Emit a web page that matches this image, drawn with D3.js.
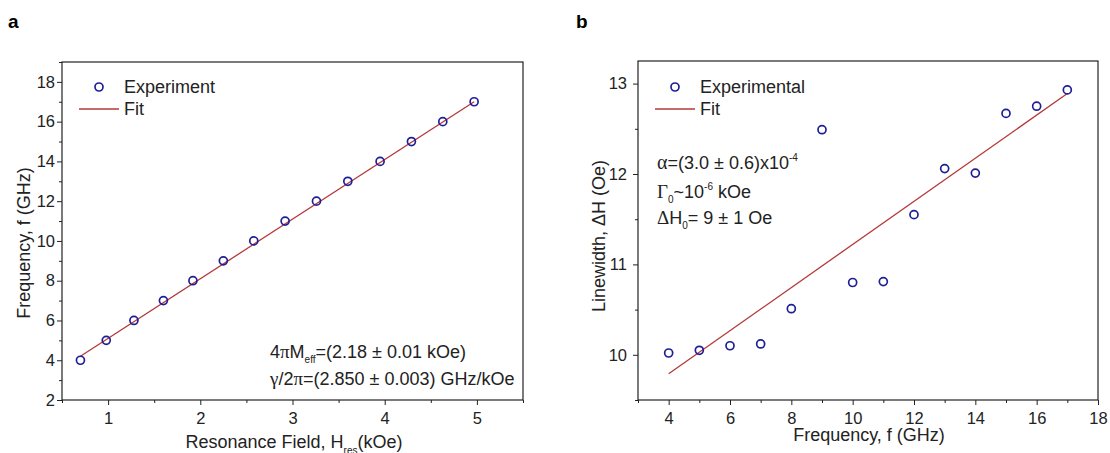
<!DOCTYPE html>
<html>
<head>
<meta charset="utf-8">
<script src="https://cdn.jsdelivr.net/npm/d3@7"></script>
<style>
  body { margin: 0; background: #fff; }
  svg { font-family: "Liberation Sans", Arial, sans-serif; }
  .axis path, .axis line { stroke: #222; }
  .axis text { font-size: 16.5px; fill: #222; font-family: "Liberation Sans", Arial, sans-serif; }
  .gr { font-family: "Liberation Serif", "Times New Roman", serif; }
</style>
</head>
<body>
<svg id="canvas" width="1110" height="453"></svg>
<script>
// panel a: resonance field vs frequency
const fieldH = [0.70, 0.98, 1.28, 1.60, 1.92, 2.25, 2.58, 2.92, 3.26, 3.60, 3.95, 4.29, 4.63, 4.97]
const freqA = [4, 5, 6, 7, 8, 9, 10, 11, 12, 13, 14, 15, 16, 17]
const fitAx = [0.70, 4.97]
const fitAy = [4.2, 17.0]
const ticksAx = [1, 2, 3, 4, 5]
const ticksAy = [2, 4, 6, 8, 10, 12, 14, 16, 18]

// panel b: frequency vs linewidth
const freqB = [4, 5, 6, 7, 8, 9, 10, 11, 12, 13, 14, 15, 16, 17]
const linewidth = [10.02, 10.05, 10.10, 10.12, 10.51, 12.49, 10.80, 10.81, 11.55, 12.06, 12.01, 12.67, 12.75, 12.93]
const fitBx = [4, 17]
const fitBy = [9.79, 12.89]
const ticksBx = [4, 6, 8, 10, 12, 14, 16, 18]
const ticksBy = [10, 11, 12, 13]

const markerColor = '#1f1f95'
const fitColor = '#b5383a'
const txtSize = 18

let svg = d3.select('#canvas')

let drawPanel = (opt) => {
    let g = svg.append('g')
    let x = d3.scaleLinear().domain(opt.xDomain).range([opt.left, opt.right])
    let y = d3.scaleLinear().domain(opt.yDomain).range([opt.bottom, opt.top])

    // minor ticks
    g.append('g').attr('class', 'axis')
        .attr('transform', 'translate(0,' + opt.bottom + ')')
        .call(d3.axisBottom(x).tickValues(opt.xMinor).tickSize(3).tickFormat(''))
        .select('.domain').remove()
    g.append('g').attr('class', 'axis')
        .attr('transform', 'translate(' + opt.left + ',0)')
        .call(d3.axisLeft(y).tickValues(opt.yMinor).tickSize(3).tickFormat(''))
        .select('.domain').remove()

    // major ticks
    g.append('g').attr('class', 'axis')
        .attr('transform', 'translate(0,' + opt.bottom + ')')
        .call(d3.axisBottom(x).tickValues(opt.xTicks).tickSize(5).tickPadding(7).tickFormat(d3.format('d')))
        .select('.domain').remove()
    g.append('g').attr('class', 'axis')
        .attr('transform', 'translate(' + opt.left + ',0)')
        .call(d3.axisLeft(y).tickValues(opt.yTicks).tickSize(5).tickPadding(opt.yPad).tickFormat(d3.format('d')))
        .select('.domain').remove()

    // frame
    g.append('rect')
        .attr('x', opt.left).attr('y', opt.top)
        .attr('width', opt.right - opt.left).attr('height', opt.bottom - opt.top)
        .attr('fill', 'none').attr('stroke', '#222').attr('stroke-width', 1.2)

    // fit line
    let line = d3.line().x((d) => x(d[0])).y((d) => y(d[1]))
    g.append('path')
        .datum(d3.zip(opt.fitX, opt.fitY))
        .attr('d', line)
        .attr('fill', 'none').attr('stroke', fitColor).attr('stroke-width', 1.3)

    // data points
    g.selectAll('circle.pt')
        .data(d3.zip(opt.dataX, opt.dataY))
        .enter()
        .append('circle')
        .attr('class', 'pt')
        .attr('cx', (d) => x(d[0]))
        .attr('cy', (d) => y(d[1]))
        .attr('r', 4)
        .attr('fill', 'none')
        .attr('stroke', markerColor)
        .attr('stroke-width', 1.7)

    // legend
    g.append('circle')
        .attr('cx', opt.legX).attr('cy', opt.legY).attr('r', 4)
        .attr('fill', 'none').attr('stroke', markerColor).attr('stroke-width', 1.7)
    g.append('text').attr('x', opt.legTextX).attr('y', opt.legY + 6)
        .attr('font-size', 18).attr('fill', '#222').text(opt.legName)
    g.append('line')
        .attr('x1', opt.legLineX1).attr('x2', opt.legLineX2)
        .attr('y1', opt.legY + 22).attr('y2', opt.legY + 22)
        .attr('stroke', fitColor).attr('stroke-width', 1.3)
    g.append('text').attr('x', opt.legTextX).attr('y', opt.legY + 28)
        .attr('font-size', 18).attr('fill', '#222').text('Fit')

    return g
}

// panel a
let ga = drawPanel({
    left: 62, right: 523, top: 62, bottom: 400,
    xDomain: [0.5, 5.5], yDomain: [2, 19],
    xTicks: ticksAx, yTicks: ticksAy,
    xMinor: [0.5, 1.5, 2.5, 3.5, 4.5, 5.5],
    yMinor: [3, 5, 7, 9, 11, 13, 15, 17, 19],
    yPad: 2,
    dataX: fieldH, dataY: freqA, fitX: fitAx, fitY: fitAy,
    legX: 99, legY: 87, legTextX: 124, legLineX1: 79, legLineX2: 119,
    legName: 'Experiment'
})

// panel b
let gb = drawPanel({
    left: 638, right: 1098, top: 61, bottom: 400,
    xDomain: [3, 18], yDomain: [9.5, 13.25],
    xTicks: ticksBx, yTicks: ticksBy,
    xMinor: [3, 5, 7, 9, 11, 13, 15, 17],
    yMinor: [9.5, 10.5, 11.5, 12.5],
    yPad: 6,
    dataX: freqB, dataY: linewidth, fitX: fitBx, fitY: fitBy,
    legX: 675, legY: 87, legTextX: 700, legLineX1: 655, legLineX2: 695,
    legName: 'Experimental'
})

// panel letters
svg.append('text').attr('x', 8).attr('y', 28).attr('font-size', 19).attr('font-weight', 'bold').text('a')
svg.append('text').attr('x', 576).attr('y', 28).attr('font-size', 19).attr('font-weight', 'bold').text('b')

// axis titles
svg.append('text').attr('x', 294).attr('y', 448).attr('text-anchor', 'middle').attr('font-size', 18).attr('fill', '#222')
    .html('Resonance Field, H<tspan font-size="10" dy="6">res</tspan><tspan dy="-6">(kOe)</tspan>')
svg.append('text').attr('transform', 'translate(30,243) rotate(-90)').attr('text-anchor', 'middle')
    .attr('font-size', 18).attr('fill', '#222').text('Frequency, f (GHz)')
svg.append('text').attr('x', 869).attr('y', 441).attr('text-anchor', 'middle').attr('font-size', 18).attr('fill', '#222')
    .text('Frequency, f (GHz)')
svg.append('text').attr('transform', 'translate(605,236) rotate(-90)').attr('text-anchor', 'middle')
    .attr('font-size', 18).attr('fill', '#222').text('Linewidth, \u0394H (Oe)')

// annotations panel a
svg.append('text').attr('x', 270).attr('y', 358).attr('font-size', txtSize).attr('fill', '#222')
    .html('4<tspan class="gr" font-size="19">\u03c0</tspan>M<tspan font-size="10" dy="5">eff</tspan><tspan dy="-5">=(2.18 \u00b1 0.01 kOe)</tspan>')
svg.append('text').attr('x', 270).attr('y', 385).attr('font-size', txtSize).attr('fill', '#222')
    .html('<tspan class="gr" font-size="19">\u03b3</tspan>/2<tspan class="gr" font-size="19">\u03c0</tspan>=(2.850 \u00b1 0.003) GHz/kOe')

// annotations panel b
svg.append('text').attr('x', 657).attr('y', 169).attr('font-size', txtSize).attr('fill', '#222')
    .html('<tspan class="gr" font-size="20">\u03b1</tspan>=(3.0 \u00b1 0.6)x10<tspan font-size="10" dy="-8">-4</tspan>')
svg.append('text').attr('x', 657).attr('y', 198).attr('font-size', txtSize).attr('fill', '#222')
    .html('<tspan class="gr" font-size="19">\u0393</tspan><tspan font-size="10" dy="5">0</tspan><tspan dy="-5">~10</tspan><tspan font-size="10" dy="-8">-6</tspan><tspan dy="8"> kOe</tspan>')
svg.append('text').attr('x', 657).attr('y', 224).attr('font-size', txtSize).attr('fill', '#222')
    .html('<tspan class="gr" font-size="19">\u0394</tspan>H<tspan font-size="10" dy="5">0</tspan><tspan dy="-5">= 9 \u00b1 1 Oe</tspan>')
</script>
</body>
</html>
